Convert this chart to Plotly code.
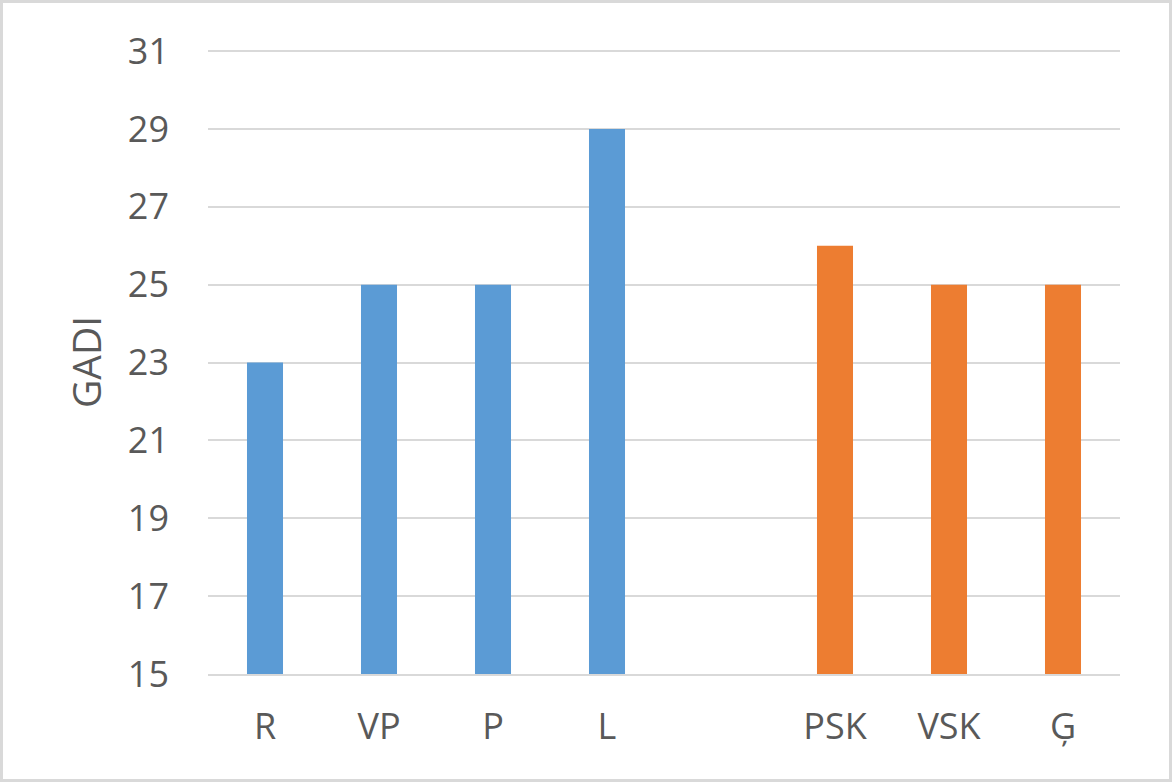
import plotly.graph_objects as go

categories = ["R", "VP", "P", "L", " ", "PSK", "VSK", "Ģ"]
blue_cats = ["R", "VP", "P", "L"]
blue_vals = [23, 25, 25, 29]
orange_cats = ["PSK", "VSK", "Ģ"]
orange_vals = [26, 25, 25]
y_ticks = [15, 17, 19, 21, 23, 25, 27, 29, 31]
y_base = 15

W, H = 1172, 782
L, R, T, B = 208, 52, 50, 108
pw, ph = W - L - R, H - T - B

fig = go.Figure()
fig.add_trace(go.Bar(x=blue_cats, y=[v - y_base for v in blue_vals], base=y_base,
                     marker=dict(color="#5b9bd5", line=dict(width=0)), width=0.316,
                     hoverinfo="skip"))
fig.add_trace(go.Bar(x=orange_cats, y=[v - y_base for v in orange_vals], base=y_base,
                     marker=dict(color="#ed7d31", line=dict(width=0)), width=0.316,
                     hoverinfo="skip"))

font = "Open Sans, Liberation Sans, sans-serif"
fig.update_layout(
    width=W, height=H,
    margin=dict(l=L, r=R, t=T, b=B, pad=0),
    paper_bgcolor="white", plot_bgcolor="white",
    showlegend=False, barmode="overlay",
    font=dict(family=font, color="#595959"),
    xaxis=dict(type="category", categoryorder="array", categoryarray=categories,
               range=[-0.5, len(categories) - 0.5],
               showgrid=False, showline=True, linecolor="#d9d9d9", linewidth=2,
               ticks="", tickfont=dict(size=36, color="#595959"),
               ticklabelstandoff=20, zeroline=False),
    yaxis=dict(range=[15, 31.03], tickvals=y_ticks, showgrid=True, gridcolor="#d9d9d9",
               gridwidth=2, showline=False, zeroline=False, ticks="",
               tickfont=dict(size=36, color="#595959"), ticklabelstandoff=38,
               title=dict(text="GADI", font=dict(size=39, color="#595959"), standoff=14)),
    shapes=[dict(type="rect", xref="paper", yref="paper",
                 x0=(-L + 1.5) / pw, x1=(pw + R - 1.5) / pw,
                 y0=(-B + 1.5) / ph, y1=(ph + T - 1.5) / ph,
                 line=dict(color="#d9d9d9", width=3), fillcolor="rgba(0,0,0,0)",
                 layer="above")],
)

fig.write_html("out.html", config={"displayModeBar": False},
               post_script="document.body.style.margin='0';document.body.style.padding='0';")
